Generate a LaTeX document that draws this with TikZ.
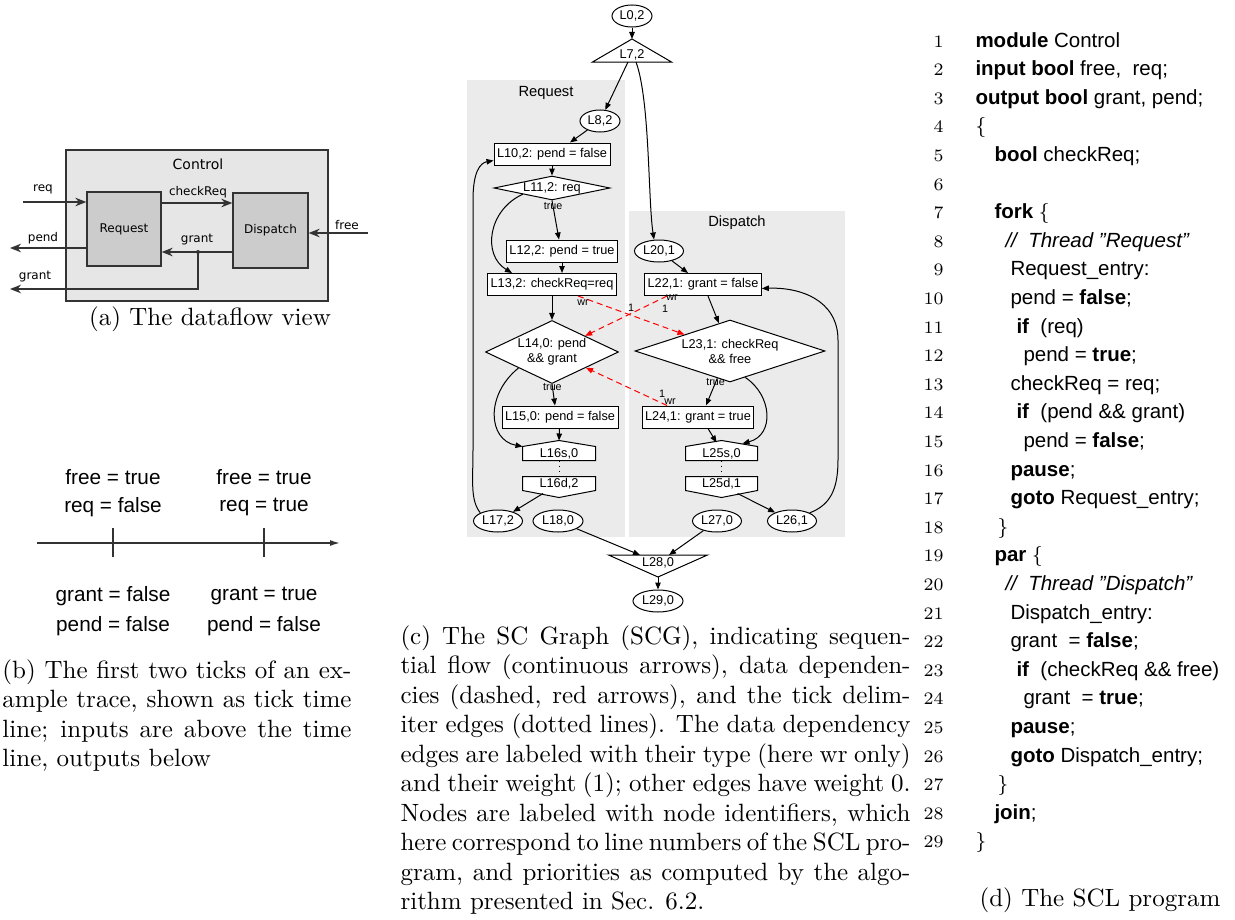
\documentclass[tikz,border=0pt]{standalone}
\usepackage{fontspec}
\usetikzlibrary{arrows.meta,shapes.geometric,backgrounds}
\newfontfamily\helv{Liberation Sans}
\newfontfamily\dejavu{DejaVu Sans}
\definecolor{dfline}{HTML}{333333}
\definecolor{dfouter}{HTML}{E6E6E6}
\definecolor{dfinner}{HTML}{CCCCCC}
\definecolor{clusterbg}{HTML}{EBEBEB}

\begin{document}
\begin{tikzpicture}[x=0.4pt, y=-0.4pt,
        gfont/.style={font=\helv\fontsize{5.1}{6}\selectfont},
        gnode/.style={gfont, draw, fill=white, line width=0.4pt},
        gbox/.style={gnode, rectangle, minimum height=8.8pt, inner xsep=1.2pt, inner ysep=0pt},
        goval/.style={gnode, ellipse, minimum height=8.8pt, inner sep=0.3pt},
        gcond/.style={gnode, diamond, inner sep=0pt, align=center},
        gplain/.style={gfont, inner sep=0pt},
        ghouse/.style={gfont, inner sep=0pt, minimum height=5.2pt},
        gshape/.style={draw, fill=white, line width=0.4pt},
        flow/.style={-{Triangle[length=2.8pt,width=2.2pt]}, line width=0.4pt},
        dep/.style={flow, red, dash pattern=on 2.4pt off 1.6pt},
        tickline/.style={line width=0.4pt, dash pattern=on 0.4pt off 1.6pt},
        elbl/.style={font=\helv\fontsize{4.3}{5}\selectfont, inner sep=0pt},
        cluster/.style={fill=clusterbg},
        clbl/.style={font=\helv\fontsize{5.9}{7}\selectfont, inner sep=0pt},
        dfmod/.style={draw=dfline, fill=dfouter, line width=0.5pt},
        dfsub/.style={draw=dfline, fill=dfinner, line width=0.5pt, inner sep=0pt,
            font=\dejavu\fontsize{4.8}{6}\selectfont},
        dflbl/.style={font=\dejavu\fontsize{4.8}{6}\selectfont, inner sep=0pt},
        dfarrow/.style={draw=dfline, line width=0.7pt, -{Stealth[length=4.4pt,width=3.4pt,inset=1.4pt]}},
        tlbl/.style={font=\helv\fontsize{8.3}{10}\selectfont, inner sep=0pt},
        tline/.style={draw=dfline, line width=0.6pt},
        codeln/.style={anchor=base east, font=\fontsize{7}{8}\selectfont, inner sep=0pt},
        codetxt/.style={anchor=base west, font=\helv\fontsize{8.2}{10}\selectfont, inner sep=0pt},
        subcap/.style={font=\fontsize{10}{11.8}\selectfont, inner sep=0pt, align=left},
    ]
    \useasboundingbox (0,0) rectangle (1235,920);

    % (a) dataflow view
    \node[dfmod, minimum width=104.8pt, minimum height=60.4pt] (control) at (197,225.5) {};
    \node[dflbl, font=\dejavu\fontsize{5.6}{7}\selectfont] (controllbl) at (198,164) {Control};
    \node[dfsub, minimum width=29.6pt, minimum height=29.6pt] (request) at (124,229) {Request};
    \node[dfsub, minimum width=30pt, minimum height=30pt] (dispatch) at (270.5,230.5) {Dispatch};
    \coordinate (reqin) at (23,202);
    \coordinate (freein) at (368,233);
    \coordinate (pendout) at (10,248);
    \coordinate (grantsplit) at (198,252);
    \coordinate (grantout) at (10,289);
    \draw[dfarrow] (reqin) -- (reqin -| request.west);
    \draw[dfarrow] (request.east |- 0,203) -- (dispatch.west |- 0,203);
    \draw[dfarrow] (freein) -- (freein -| dispatch.east);
    \draw[dfarrow] (grantsplit -| dispatch.west) -- (grantsplit -| request.east);
    \draw[dfarrow] (pendout -| request.west) -- (pendout);
    \draw[dfarrow] (grantsplit) |- (grantout);
    \fill[dfline] (grantsplit) circle (0.8pt);
    \node[dflbl] (reqlbl) at (43,189) {req};
    \node[dflbl] (checklbl) at (198,192) {checkReq};
    \node[dflbl] (freelbl) at (347,225) {free};
    \node[dflbl] (grantlbl) at (197,240) {grant};
    \node[dflbl] (pendlbl) at (43,238) {pend};
    \node[dflbl] (grantoutlbl) at (35,277) {grant};
    \node[subcap, anchor=base] (capa) at (210,325) {(a) The dataflow view};

    % (b) tick time line
    \coordinate (tlstart) at (37,543);
    \coordinate (tlend) at (340,543);
    \draw[tline, -{Latex[length=4pt,width=2.4pt]}] (tlstart) -- (tlend);
    \foreach \tx in {113,264}
        \draw[tline] (\tx,528) -- (\tx,557);
    \node[tlbl] (freeA) at (113,477) {free = true};
    \node[tlbl] (reqA) at (113,507) {req = false};
    \node[tlbl] (freeB) at (264,477) {free = true};
    \node[tlbl] (reqB) at (264,507) {req = true};
    \node[tlbl] (grantA) at (113,596) {grant = false};
    \node[tlbl] (pendA) at (113,626) {pend = false};
    \node[tlbl] (grantB) at (264,596) {grant = true};
    \node[tlbl] (pendB) at (264,626) {pend = false};
    \node[subcap, anchor=north west] (capb) at (2,659) {%
        \makebox[139.6pt][s]{(b) The first two ticks of an ex-}\\
        \makebox[139.6pt][s]{ample trace, shown as tick time}\\
        \makebox[139.6pt][s]{line; inputs are above the time}\\
        line, outputs below};

    % (c) SC graph
    \node[goval, minimum width=16pt] (L0) at (632,16) {L0,2};
    \node[gplain] (L7) at (632,55) {L7,2};
    \node[goval, minimum width=16pt] (L8) at (600,121) {L8,2};
    \node[gbox] (L10) at (552,154) {L10,2: pend = false};
    \node[gcond, minimum width=46.4pt, minimum height=9.6pt, aspect=4.8] (L11) at (552,188) {L11,2: req};
    \node[gbox] (L12) at (562,251) {L12,2: pend = true};
    \node[gbox] (L13) at (552,284.5) {L13,2: checkReq=req};
    \node[gcond, minimum width=53.2pt, minimum height=25.2pt, aspect=2.1] (L14) at (552,352) {L14,0: pend\\\&\& grant};
    \node[gbox] (L15) at (560,417) {L15,0: pend = false};
    \node[ghouse, minimum width=28.8pt] (L16s) at (559,453.5) {L16s,0};
    \node[ghouse, minimum width=28.8pt] (L16d) at (559,483.5) {L16d,2};
    \node[goval, minimum width=19.6pt] (L17) at (498,521) {L17,2};
    \node[goval, minimum width=20pt] (L18) at (558,521) {L18,0};
    \node[goval, minimum width=19.6pt] (L20) at (659,251) {L20,1};
    \node[gbox] (L22) at (703,284.5) {L22,1: grant = false};
    \node[gcond, minimum width=76pt, minimum height=24.8pt, aspect=3] (L23) at (730,351) {L23,1: checkReq\\\&\& free};
    \node[gbox] (L24) at (698,417) {L24,1: grant = true};
    \node[ghouse, minimum width=28.4pt] (L25s) at (721.5,453.5) {L25s,0};
    \node[ghouse, minimum width=28.4pt] (L25d) at (721.5,483.5) {L25d,1};
    \node[goval, minimum width=19.6pt] (L26) at (792,521) {L26,1};
    \node[goval, minimum width=19.6pt] (L27) at (717,521) {L27,0};
    \node[gplain] (L28) at (658,563) {L28,0};
    \node[goval, minimum width=20pt] (L29) at (658,601) {L29,0};
    \node[clbl] (reqcl) at (546,93) {Request};
    \node[clbl] (discl) at (737,223) {Dispatch};

    % sequential flow
    \draw[flow] (L0) -- ([yshift=6.4pt]L7.center);
    \draw[flow] ([shift={(-1.6pt,-2.8pt)}]L7.center) -- (L8);
    \draw[flow] ([shift={(1.6pt,-2.8pt)}]L7.center) .. controls (650,100) and (648,200) .. ([xshift=-2pt]L20.north);
    \draw[flow] (L8) -- ([xshift=7.2pt]L10.north);
    \draw[flow] (L10) -- (L11);
    \draw[flow] (L11.south) -- ([xshift=-1.2pt]L12.north) node[elbl, pos=0.15] {true};
    \draw[flow] (L11.south west) .. controls (488,210) and (482,255) .. ([xshift=-16pt]L13.north);
    \draw[flow] (L12.south) -- (L12.south |- L13.north);
    \draw[flow] (L13) -- (L14);
    \draw[flow] (L14.south) -- ([xshift=-2pt]L15.north) node[elbl, pos=0.15] {true};
    \draw[flow] (L14.south west) .. controls (485,395) and (488,440) .. (L16s.north west);
    \draw[flow] (L15) -- ([yshift=2.4pt]L16s.north);
    \draw[tickline] (L16s.south) -- (L16d.north);
    \draw[flow] ([shift={(-6.4pt,-1.2pt)}]L16d.south) -- (L17);
    \draw[flow] (L17.north west) .. controls (470,500) and (473,480) .. (473,450) -- (473,200)
        .. controls (473,172) and (480,163) .. ([yshift=2pt]L10.south west);
    \draw[flow] (L18) -- ([shift={(-7.2pt,3.2pt)}]L28.center);
    \draw[flow] (L20) -- ([xshift=-6pt]L22.north);
    \draw[flow] ([xshift=2pt]L22.south) -- (L23);
    \draw[flow] (L23.-115) -- ([xshift=3.2pt]L24.north) node[elbl, pos=0.15] {true};
    \draw[flow] (L23.-60) .. controls (772,395) and (775,435) .. ([shift={(8.4pt,1.2pt)}]L25s.north);
    \draw[flow] ([xshift=4pt]L24.south) -- ([shift={(-2pt,1.6pt)}]L25s.north);
    \draw[tickline] (L25s.south) -- (L25d.north);
    \draw[flow] ([shift={(6.4pt,-1.2pt)}]L25d.south) -- (L26);
    \draw[flow] (L26.north east) .. controls (830,505) and (838,490) .. (838,460) -- (838,340)
        .. controls (838,300) and (800,287) .. ([yshift=-1.6pt]L22.east);
    \draw[flow] (L27) -- ([shift={(4.4pt,3.2pt)}]L28.center);
    \draw[flow] ([yshift=-5.6pt]L28.center) -- (L29);

    % data dependencies
    \draw[dep] ([xshift=10.4pt]L13.south) -- (L23);
    \draw[dep] ([xshift=-14.4pt]L22.south) -- (L14);
    \draw[dep] ([xshift=-12.4pt]L24.north) -- (L14);
    \node[elbl] (wrA) at (583,303) {wr};
    \node[elbl] (wA) at (631,308) {1};
    \node[elbl] (wrB) at (672,298) {wr};
    \node[elbl] (wB) at (665,309) {1};
    \node[elbl] (wC) at (662,394) {1};
    \node[elbl] (wrC) at (670,402) {wr};

    \begin{scope}[on background layer]
        \fill[cluster] (467,80) rectangle (625,537);
        \fill[cluster] (629,211) rectangle (845,537);
        \filldraw[gshape] ([yshift=6.4pt]L7.center) -- ([shift={(15.8pt,-2.8pt)}]L7.center)
            -- ([shift={(-15.8pt,-2.8pt)}]L7.center) -- cycle;
        \filldraw[gshape] ([shift={(-19.8pt,3.2pt)}]L28.center) -- ([shift={(19.8pt,3.2pt)}]L28.center)
            -- ([yshift=-5.6pt]L28.center) -- cycle;
        \filldraw[gshape] (L16s.south west) -- (L16s.north west) -- ([yshift=2.4pt]L16s.north)
            -- (L16s.north east) -- (L16s.south east) -- cycle;
        \filldraw[gshape] (L16d.north west) -- (L16d.south west) -- ([yshift=-2.8pt]L16d.south)
            -- (L16d.south east) -- (L16d.north east) -- cycle;
        \filldraw[gshape] (L25s.south west) -- (L25s.north west) -- ([yshift=2.4pt]L25s.north)
            -- (L25s.north east) -- (L25s.south east) -- cycle;
        \filldraw[gshape] (L25d.north west) -- (L25d.south west) -- ([yshift=-2.8pt]L25d.south)
            -- (L25d.south east) -- (L25d.north east) -- cycle;
    \end{scope}

    \node[subcap, anchor=north west] (capc) at (400,625) {%
        \makebox[204pt][s]{(c) The SC Graph (SCG), indicating sequen-}\\
        \makebox[204pt][s]{tial flow (continuous arrows), data dependen-}\\
        \makebox[204pt][s]{cies (dashed, red arrows), and the tick delim-}\\
        \makebox[204pt][s]{iter edges (dotted lines). The data dependency}\\
        \makebox[204pt][s]{edges are labeled with their type (here wr only)}\\
        \makebox[204pt][s]{and their weight (1); other edges have weight 0.}\\
        \makebox[204pt][s]{Nodes are labeled with node identifiers, which}\\
        \makebox[204pt][s]{here correspond to line numbers of the SCL pro-}\\
        \makebox[204pt][s]{gram, and priorities as computed by the algo-}\\
        rithm presented in Sec. 6.2.};

    % (d) SCL program
    \foreach \n in {1,...,29}
        \node[codeln] (ln\n) at (944,{47+(\n-1)*28.6}) {\n};
    \node[codetxt] (c1) at (ln1.base -| 975,0) {\textbf{module} Control};
    \node[codetxt] (c2) at (ln2.base -| 975,0) {\textbf{input bool} free,~ req;};
    \node[codetxt] (c3) at (ln3.base -| 975,0) {\textbf{output bool} grant, pend;};
    \node[codetxt] (c4) at (ln4.base -| 975,0) {$\{$};
    \node[codetxt] (c5) at (ln5.base -| 994,0) {\textbf{bool} checkReq;};
    \node[codetxt] (c7) at (ln7.base -| 994,0) {\textbf{fork} $\{$};
    \node[codetxt] (c8) at (ln8.base -| 1005,0) {\textit{//~ Thread ”Request”}};
    \node[codetxt] (c9) at (ln9.base -| 1010,0) {Request\_entry:};
    \node[codetxt] (c10) at (ln10.base -| 1010,0) {pend = \textbf{false};};
    \node[codetxt] (c11) at (ln11.base -| 1016,0) {\textbf{if}~ (req)};
    \node[codetxt] (c12) at (ln12.base -| 1023,0) {pend = \textbf{true};};
    \node[codetxt] (c13) at (ln13.base -| 1010,0) {checkReq = req;};
    \node[codetxt] (c14) at (ln14.base -| 1016,0) {\textbf{if}~ (pend \&\& grant)};
    \node[codetxt] (c15) at (ln15.base -| 1023,0) {pend = \textbf{false};};
    \node[codetxt] (c16) at (ln16.base -| 1010,0) {\textbf{pause};};
    \node[codetxt] (c17) at (ln17.base -| 1010,0) {\textbf{goto} Request\_entry;};
    \node[codetxt] (c18) at (ln18.base -| 997,0) {$\}$};
    \node[codetxt] (c19) at (ln19.base -| 994,0) {\textbf{par} $\{$};
    \node[codetxt] (c20) at (ln20.base -| 1005,0) {\textit{//~ Thread ”Dispatch”}};
    \node[codetxt] (c21) at (ln21.base -| 1010,0) {Dispatch\_entry:};
    \node[codetxt] (c22) at (ln22.base -| 1010,0) {grant~ = \textbf{false};};
    \node[codetxt] (c23) at (ln23.base -| 1016,0) {\textbf{if}~ (checkReq \&\& free)};
    \node[codetxt] (c24) at (ln24.base -| 1023,0) {grant~ = \textbf{true};};
    \node[codetxt] (c25) at (ln25.base -| 1010,0) {\textbf{pause};};
    \node[codetxt] (c26) at (ln26.base -| 1010,0) {\textbf{goto} Dispatch\_entry;};
    \node[codetxt] (c27) at (ln27.base -| 997,0) {$\}$};
    \node[codetxt] (c28) at (ln28.base -| 994,0) {\textbf{join};};
    \node[codetxt] (c29) at (ln29.base -| 975,0) {$\}$};
    \node[subcap, anchor=base] (capd) at (1100,906) {(d) The SCL program};
\end{tikzpicture}
\end{document}
